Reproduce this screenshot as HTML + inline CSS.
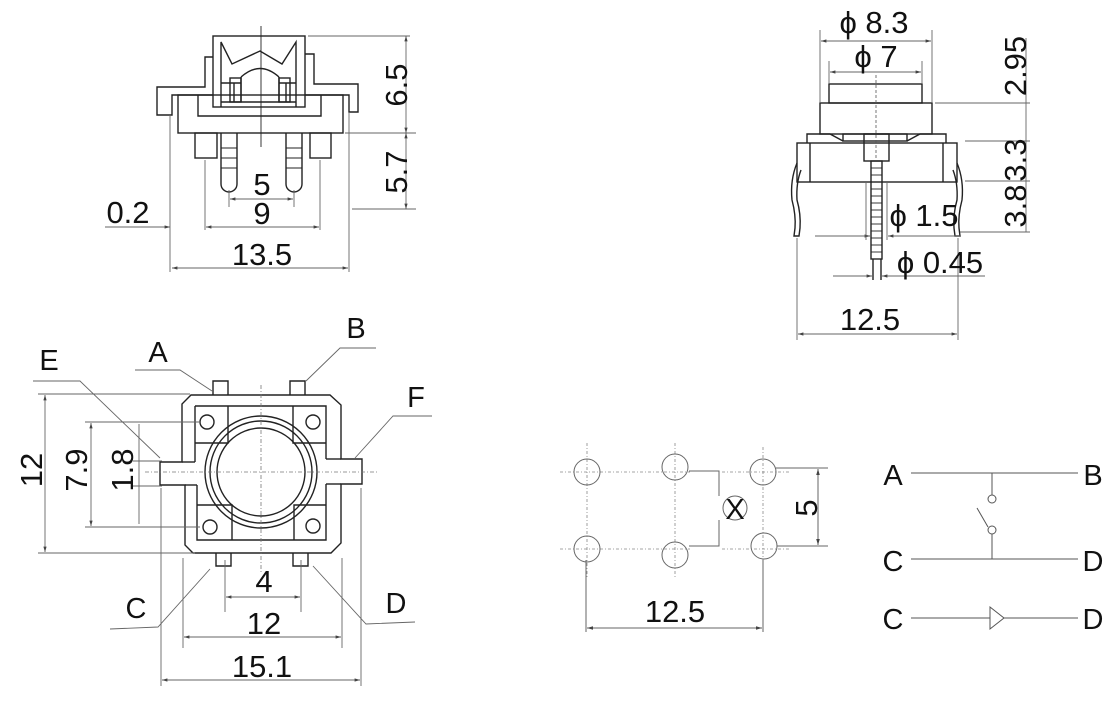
<!DOCTYPE html>
<html><head><meta charset="utf-8"><style>
html,body{margin:0;padding:0;background:#fff;}
svg{display:block;}
text{font-family:"Liberation Sans",Arial,sans-serif;fill:#111;}
</style></head><body>
<svg width="1120" height="712" viewBox="0 0 1120 712" xmlns="http://www.w3.org/2000/svg">
<defs>
<marker id="ar" viewBox="0 0 10 10" refX="10" refY="5" markerWidth="6" markerHeight="6" orient="auto-start-reverse"><path d="M0,2 L10,5 L0,8 z" fill="#444"/></marker>
</defs>
<g fill="none" stroke="#222" stroke-width="1.4">
<!-- TOP LEFT VIEW -->
<rect x="213" y="36" width="92" height="71"/>
<polyline points="221,107 221,42 232,64 260,51 282,64 296,42 296,107"/>
<path d="M241,77 Q260,60 279,77"/>
<line x1="241" y1="77" x2="241" y2="102"/><line x1="279" y1="77" x2="279" y2="102"/>
<rect x="230" y="78" width="11" height="24"/><rect x="279" y="78" width="11" height="24"/>
<line x1="234" y1="83" x2="234" y2="102"/><line x1="286" y1="83" x2="286" y2="102"/>
<line x1="221" y1="83" x2="241" y2="83"/><line x1="279" y1="83" x2="296" y2="83"/>
<line x1="221" y1="102" x2="296" y2="102"/>
<polyline points="213,57 205,57 205,87 157,87 157,115 172,115 172,95 213,95"/>
<polyline points="305,54 314,54 314,84 358,84 358,112 349,112 349,95 305,95"/>
<rect x="178" y="95" width="165" height="38"/>
<polyline points="198,95 198,116 321,116 321,95"/>
<rect x="195" y="133" width="22" height="25"/><rect x="310" y="133" width="21" height="25"/>
<path d="M221,133 V184 A8,8 0 0 0 237,184 V133"/>
<path d="M286,133 V184 A8,8 0 0 0 302,184 V133"/>
<g stroke-width="1"><line x1="221" y1="148" x2="237" y2="148"/><line x1="221" y1="158" x2="237" y2="158"/><line x1="221" y1="168" x2="237" y2="168"/>
<line x1="286" y1="148" x2="302" y2="148"/><line x1="286" y1="158" x2="302" y2="158"/><line x1="286" y1="168" x2="302" y2="168"/></g>
<line x1="261" y1="26" x2="261" y2="147" stroke-width="0.9"/>
</g>
<g fill="none" stroke="#666" stroke-width="0.9">
<line x1="308" y1="36" x2="410" y2="36"/><line x1="345" y1="133" x2="416" y2="133"/><line x1="352" y1="209" x2="416" y2="209"/>
<line x1="406" y1="36" x2="406" y2="133" marker-start="url(#ar)" marker-end="url(#ar)"/>
<line x1="406" y1="133" x2="406" y2="209" marker-start="url(#ar)" marker-end="url(#ar)"/>
<line x1="229" y1="190" x2="229" y2="207"/><line x1="294" y1="190" x2="294" y2="207"/>
<line x1="230" y1="199" x2="293" y2="199" marker-start="url(#ar)" marker-end="url(#ar)"/>
<line x1="205" y1="160" x2="205" y2="230"/><line x1="320" y1="160" x2="320" y2="230"/>
<line x1="206" y1="227" x2="319" y2="227" marker-start="url(#ar)" marker-end="url(#ar)"/>
<line x1="105" y1="227" x2="170" y2="227" marker-end="url(#ar)"/>
<line x1="170" y1="115" x2="170" y2="272"/><line x1="349" y1="113" x2="349" y2="272"/>
<line x1="172" y1="268" x2="348" y2="268" marker-start="url(#ar)" marker-end="url(#ar)"/>
</g>
<text x="396" y="85" font-size="31" text-anchor="middle" transform="rotate(-90 396 85)" dy="11">6.5</text>
<text x="396" y="172" font-size="31" text-anchor="middle" transform="rotate(-90 396 172)" dy="11">5.7</text>
<text x="262" y="195" font-size="31" text-anchor="middle">5</text>
<text x="262" y="224" font-size="31" text-anchor="middle">9</text>
<text x="128" y="223" font-size="31" text-anchor="middle">0.2</text>
<text x="262" y="265" font-size="31" text-anchor="middle">13.5</text>

<!-- TOP RIGHT VIEW -->
<g fill="none" stroke="#222" stroke-width="1.4">
<rect x="829" y="84" width="93" height="19"/>
<rect x="820" y="103" width="112" height="31"/>
<polyline points="807,143 807,134 830,134 843,141"/>
<rect x="843" y="134" width="64" height="7"/>
<polyline points="907,141 920,134 946,134 946,143"/>
<rect x="864" y="134" width="25" height="27"/>
<rect x="797" y="143" width="160" height="39"/>
<line x1="810" y1="143" x2="810" y2="182"/><line x1="943" y1="143" x2="943" y2="182"/>
<rect x="871" y="161" width="11" height="98"/>
<line x1="873" y1="259" x2="873" y2="280"/><line x1="881" y1="259" x2="881" y2="280"/>
<path d="M797,163 Q790,180 792,200 Q796,215 795,228 L794,236 L799,236 L800,228 Q801,214 797,200 Q796,183 801,170"/>
<path d="M957,163 Q964,180 962,200 Q958,215 959,228 L960,236 L955,236 L954,228 Q953,214 957,200 Q958,183 953,170"/>
</g>
<g stroke="#222" stroke-width="0.9">
<line x1="871" y1="168" x2="882" y2="168"/><line x1="871" y1="175" x2="882" y2="175"/><line x1="871" y1="182" x2="882" y2="182"/><line x1="871" y1="189" x2="882" y2="189"/><line x1="871" y1="196" x2="882" y2="196"/><line x1="871" y1="203" x2="882" y2="203"/><line x1="871" y1="210" x2="882" y2="210"/><line x1="871" y1="217" x2="882" y2="217"/><line x1="871" y1="224" x2="882" y2="224"/><line x1="871" y1="231" x2="882" y2="231"/><line x1="871" y1="238" x2="882" y2="238"/><line x1="871" y1="245" x2="882" y2="245"/><line x1="871" y1="252" x2="882" y2="252"/>
</g>
<line x1="876" y1="75" x2="876" y2="160" stroke="#555" stroke-width="0.8" stroke-dasharray="3,2"/>
<g fill="none" stroke="#666" stroke-width="0.9">
<line x1="820" y1="30" x2="820" y2="103"/><line x1="932" y1="30" x2="932" y2="103"/>
<line x1="821" y1="41" x2="931" y2="41" marker-start="url(#ar)" marker-end="url(#ar)"/>
<line x1="829" y1="61" x2="829" y2="84"/><line x1="922" y1="61" x2="922" y2="84"/>
<line x1="830" y1="72" x2="921" y2="72" marker-start="url(#ar)" marker-end="url(#ar)"/>
<line x1="935" y1="103" x2="1030" y2="103"/><line x1="965" y1="141" x2="1030" y2="141"/><line x1="965" y1="181" x2="1030" y2="181"/><line x1="960" y1="232" x2="1030" y2="232"/>
<line x1="1026" y1="38" x2="1026" y2="232"/>
<line x1="815" y1="236" x2="870" y2="236" marker-end="url(#ar)"/><line x1="888" y1="236" x2="960" y2="236" marker-start="url(#ar)"/>
<line x1="887" y1="182" x2="887" y2="240"/><line x1="866" y1="182" x2="866" y2="240"/>
<line x1="833" y1="276" x2="872" y2="276" marker-end="url(#ar)"/><line x1="882" y1="276" x2="985" y2="276" marker-start="url(#ar)"/>
<line x1="797" y1="238" x2="797" y2="340"/><line x1="958" y1="238" x2="958" y2="340"/>
<line x1="798" y1="334" x2="957" y2="334" marker-start="url(#ar)" marker-end="url(#ar)"/>
</g>
<text x="874" y="33" font-size="31" text-anchor="middle">ϕ 8.3</text>
<text x="876" y="67" font-size="31" text-anchor="middle">ϕ 7</text>
<text x="1015" y="66" font-size="31" text-anchor="middle" transform="rotate(-90 1015 66)" dy="11">2.95</text>
<text x="1015" y="160" font-size="31" text-anchor="middle" transform="rotate(-90 1015 160)" dy="11">3.3</text>
<text x="1015" y="206" font-size="31" text-anchor="middle" transform="rotate(-90 1015 206)" dy="11">3.8</text>
<text x="924" y="226" font-size="31" text-anchor="middle">ϕ 1.5</text>
<text x="940" y="273" font-size="31" text-anchor="middle">ϕ 0.45</text>
<text x="870" y="330" font-size="31" text-anchor="middle">12.5</text>

<!-- BOTTOM LEFT VIEW -->
<g fill="none" stroke="#222" stroke-width="1.4">
<path d="M191,395 H330 L341,405 V459 H362 V484 H341 V543 L331,553 H193 L185,545 V485 H160 V462 H182 V404 Z"/>
<path d="M195,406 H326 V459 M326,484 V540 H197 V485 M195,462 V406"/>
<line x1="182" y1="462" x2="195" y2="462"/><line x1="185" y1="485" x2="197" y2="485"/>
<line x1="326" y1="459" x2="341" y2="459"/><line x1="326" y1="484" x2="341" y2="484"/>
<polyline points="195,443 228,443 228,406"/><polyline points="293,406 293,443 326,443"/>
<polyline points="197,505 232,505 232,540"/><polyline points="294,540 294,505 326,505"/>
<circle cx="207" cy="422" r="7"/><circle cx="313" cy="422" r="7"/><circle cx="210" cy="527" r="7"/><circle cx="313" cy="526" r="7"/>
<circle cx="261" cy="472" r="56"/><circle cx="261" cy="472" r="51"/><circle cx="261" cy="472" r="44"/>
<polyline points="213,395 213,381 228,381 228,395"/><polyline points="290,395 290,381 305,381 305,395"/>
<polyline points="216,553 216,566 231,566 231,553"/><polyline points="293,553 293,566 308,566 308,553"/>
</g>
<g stroke="#777" stroke-width="0.8" stroke-dasharray="4,2,1,2">
<line x1="261" y1="385" x2="261" y2="572"/><line x1="145" y1="472" x2="378" y2="472"/>
</g>
<g fill="none" stroke="#666" stroke-width="0.9">
<line x1="38" y1="394" x2="190" y2="394"/><line x1="38" y1="553" x2="195" y2="553"/>
<line x1="45" y1="395" x2="45" y2="552" marker-start="url(#ar)" marker-end="url(#ar)"/>
<line x1="85" y1="422" x2="200" y2="422"/><line x1="85" y1="527" x2="200" y2="527"/>
<line x1="91" y1="423" x2="91" y2="526" marker-start="url(#ar)" marker-end="url(#ar)"/>
<line x1="133" y1="461" x2="162" y2="461"/><line x1="133" y1="486" x2="162" y2="486"/>
<line x1="139" y1="424" x2="139" y2="524"/>
<polyline points="33,381 80,381 160,458"/>
<polyline points="135,370 180,370 212,391"/>
<polyline points="306,381 340,348 376,348"/>
<polyline points="355,458 393,416 432,416"/>
<polyline points="210,569 158,627 110,629"/>
<polyline points="313,566 366,624 415,622"/>
<line x1="225" y1="560" x2="225" y2="612"/><line x1="301" y1="560" x2="301" y2="612"/>
<line x1="226" y1="597" x2="300" y2="597" marker-start="url(#ar)" marker-end="url(#ar)"/>
<line x1="183" y1="558" x2="183" y2="648"/><line x1="342" y1="558" x2="342" y2="648"/>
<line x1="184" y1="637" x2="341" y2="637" marker-start="url(#ar)" marker-end="url(#ar)"/>
<line x1="161" y1="488" x2="161" y2="686"/><line x1="361" y1="488" x2="361" y2="686"/>
<line x1="162" y1="680" x2="360" y2="680" marker-start="url(#ar)" marker-end="url(#ar)"/>
</g>
<text x="31" y="470" font-size="31" text-anchor="middle" transform="rotate(-90 31 470)" dy="11">12</text>
<text x="76" y="470" font-size="31" text-anchor="middle" transform="rotate(-90 76 470)" dy="11">7.9</text>
<text x="122" y="470" font-size="31" text-anchor="middle" transform="rotate(-90 122 470)" dy="11">1.8</text>
<text x="158" y="362" font-size="29" text-anchor="middle">A</text>
<text x="356" y="338" font-size="29" text-anchor="middle">B</text>
<text x="49" y="370" font-size="29" text-anchor="middle">E</text>
<text x="416" y="407" font-size="29" text-anchor="middle">F</text>
<text x="136" y="618" font-size="29" text-anchor="middle">C</text>
<text x="396" y="613" font-size="29" text-anchor="middle">D</text>
<text x="264" y="592" font-size="31" text-anchor="middle">4</text>
<text x="264" y="634" font-size="31" text-anchor="middle">12</text>
<text x="262" y="677" font-size="31" text-anchor="middle">15.1</text>

<!-- BOTTOM MIDDLE: PCB LAYOUT -->
<g stroke="#888" stroke-width="0.8" stroke-dasharray="3,2,1,2">
<line x1="560" y1="472" x2="690" y2="472"/><line x1="722" y1="472" x2="790" y2="472"/>
<line x1="560" y1="549" x2="690" y2="549"/><line x1="722" y1="549" x2="790" y2="549"/>
<line x1="587" y1="443" x2="587" y2="578"/><line x1="675" y1="443" x2="675" y2="578"/><line x1="763" y1="447" x2="763" y2="560"/>
</g>
<g fill="none" stroke="#666" stroke-width="1">
<circle cx="587" cy="472" r="13"/><circle cx="675" cy="467" r="13"/><circle cx="763" cy="472" r="13"/>
<circle cx="587" cy="549" r="13"/><circle cx="675" cy="555" r="13"/><circle cx="764" cy="546" r="13"/>
<circle cx="735" cy="508" r="12"/>
<polyline points="689,471 719,471 719,496"/><polyline points="719,520 719,546 689,546"/>
<line x1="776" y1="468" x2="828" y2="468"/><line x1="777" y1="546" x2="828" y2="546"/>
<line x1="818" y1="469" x2="818" y2="545" marker-start="url(#ar)" marker-end="url(#ar)"/>
<line x1="586" y1="560" x2="586" y2="632"/><line x1="763" y1="560" x2="763" y2="632"/>
<line x1="587" y1="628" x2="762" y2="628" marker-start="url(#ar)" marker-end="url(#ar)"/>
</g>
<text x="735" y="519" font-size="29" text-anchor="middle">X</text>
<text x="806" y="508" font-size="31" text-anchor="middle" transform="rotate(-90 806 508)" dy="11">5</text>
<text x="675" y="622" font-size="31" text-anchor="middle">12.5</text>

<!-- SCHEMATIC -->
<g fill="none" stroke="#555" stroke-width="1">
<line x1="911" y1="473" x2="1078" y2="473"/>
<line x1="992" y1="473" x2="992" y2="495"/><circle cx="992" cy="499" r="4"/>
<circle cx="992" cy="530" r="4"/><line x1="992" y1="534" x2="992" y2="559"/>
<line x1="977" y1="508" x2="988" y2="527"/>
<line x1="911" y1="559" x2="1078" y2="559"/>
<line x1="911" y1="618" x2="1078" y2="618"/>
<polygon points="990,607 1004,618 990,629" fill="#fff"/>
</g>
<text x="893" y="485" font-size="29" text-anchor="middle">A</text>
<text x="1093" y="485" font-size="29" text-anchor="middle">B</text>
<text x="893" y="571" font-size="29" text-anchor="middle">C</text>
<text x="1093" y="571" font-size="29" text-anchor="middle">D</text>
<text x="893" y="629" font-size="29" text-anchor="middle">C</text>
<text x="1093" y="629" font-size="29" text-anchor="middle">D</text>
</svg>
</body></html>
